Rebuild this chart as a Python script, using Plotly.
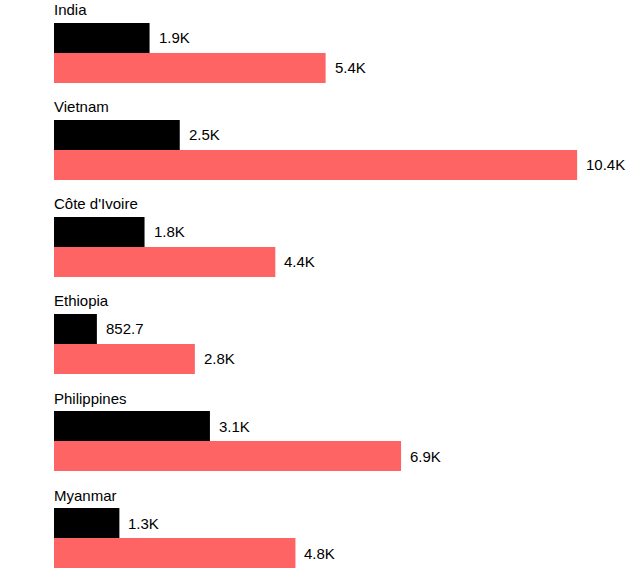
import plotly.graph_objects as go

countries = ["India", "Vietnam", "Côte d'Ivoire", "Ethiopia", "Philippines", "Myanmar"]
series_a = [1900, 2500, 1800, 852.7, 3100, 1300]
series_b = [5400, 10400, 4400, 2800, 6900, 4800]
labels_a = ["1.9K", "2.5K", "1.8K", "852.7", "3.1K", "1.3K"]
labels_b = ["5.4K", "10.4K", "4.4K", "2.8K", "6.9K", "4.8K"]

BLACK = "#000000"
RED = "#ff6464"
FONT = "Liberation Sans, Arial, sans-serif"
FS = 15

fig = go.Figure()
fig.add_trace(go.Bar(y=countries, x=series_a, orientation="h", marker=dict(color=BLACK, line=dict(width=0)),
                     hoverinfo="skip", showlegend=False))
fig.add_trace(go.Bar(y=countries, x=series_b, orientation="h", marker=dict(color=RED, line=dict(width=0)),
                     hoverinfo="skip", showlegend=False))

ann = []
for c, a, b, la, lb in zip(countries, series_a, series_b, labels_a, labels_b):
    ann.append(dict(x=0, y=c, text=c, xanchor="left", yanchor="middle", yshift=43, xshift=-2, showarrow=False,
                    font=dict(size=FS, color="#000", family=FONT)))
    ann.append(dict(x=a, y=c, text=la, xanchor="left", yanchor="middle", yshift=15, xshift=7, showarrow=False,
                    font=dict(size=FS, color="#000", family=FONT)))
    ann.append(dict(x=b, y=c, text=lb, xanchor="left", yanchor="middle", yshift=-15, xshift=7, showarrow=False,
                    font=dict(size=FS, color="#000", family=FONT)))

fig.update_layout(
    width=640, height=577,
    margin=dict(l=54, r=0, t=0, b=0),
    paper_bgcolor="white", plot_bgcolor="white",
    barmode="group", bargap=0.38, bargroupgap=0,
    xaxis=dict(range=[0, 11650], visible=False, showgrid=False, zeroline=False),
    yaxis=dict(type="category", categoryorder="array", categoryarray=countries,
               range=[5.402, -0.546], visible=False, showgrid=False),
    annotations=ann,
    font=dict(family=FONT),
    hovermode=False,
)

fig.write_html("out.html", config={"displayModeBar": False, "staticPlot": True},
               post_script="document.body.style.margin='0';document.body.style.padding='0';")
